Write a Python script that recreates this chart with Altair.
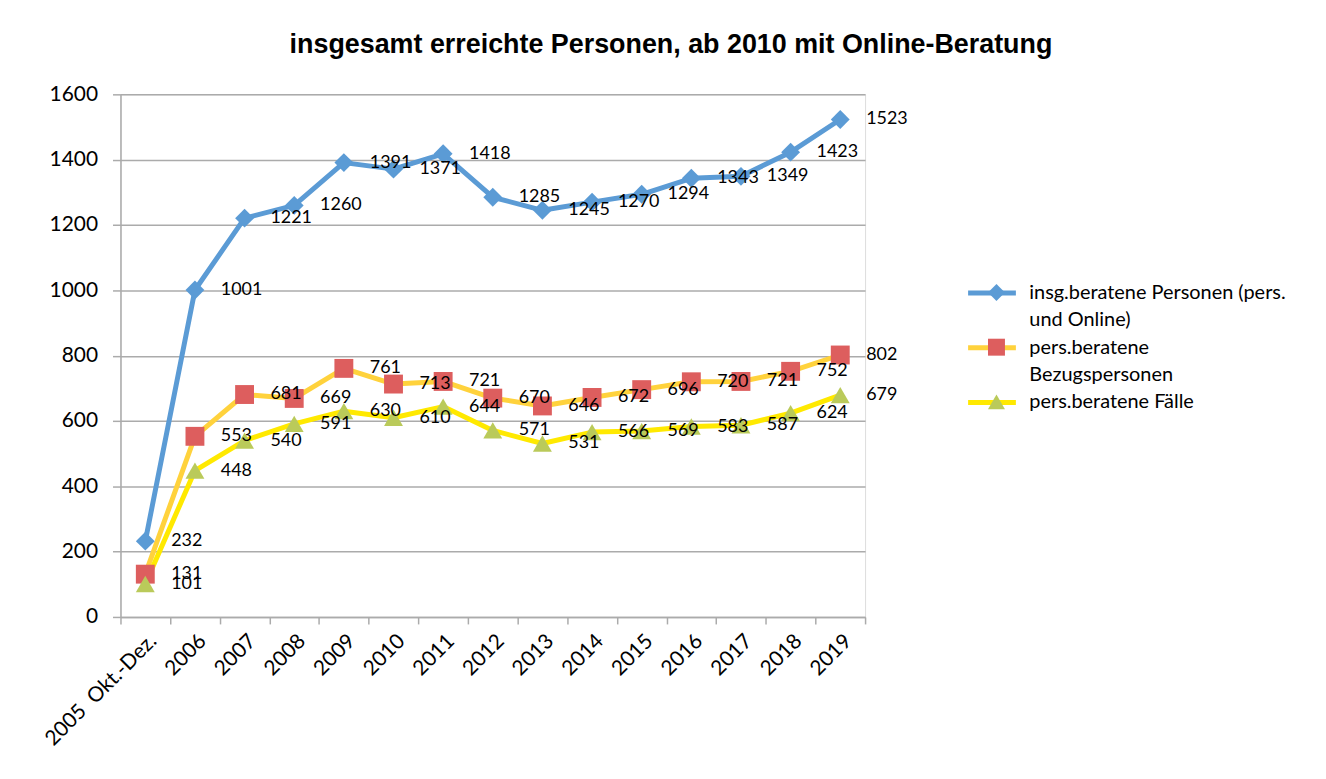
import altair as alt
import pandas as pd

categories = ["2005\u00a0 Okt.-Dez.", "2006", "2007", "2008", "2009", "2010", "2011",
              "2012", "2013", "2014", "2015", "2016", "2017", "2018", "2019"]
series_names = ["insg.beratene Personen (pers. und Online)",
                "pers.beratene Bezugspersonen",
                "pers.beratene Fälle"]
insg_beratene = [232, 1001, 1221, 1260, 1391, 1371, 1418, 1285, 1245, 1270, 1294, 1343, 1349, 1423, 1523]
bezugspersonen = [131, 553, 681, 669, 761, 713, 721, 670, 646, 672, 696, 720, 721, 752, 802]
faelle = [101, 448, 540, 591, 630, 610, 644, 571, 531, 566, 569, 583, 587, 624, 679]
y_ticks = [0, 200, 400, 600, 800, 1000, 1200, 1400, 1600]

# legend rows (wrapped names as in the original)
legend_domain = [series_names[0], "und Online)", series_names[1], "Bezugspersonen", series_names[2]]
legend_first_lines = {series_names[0]: "insg.beratene Personen (pers.",
                      series_names[1]: "pers.beratene"}

line_colors = ["#5B9BD5", "transparent", "#FFD23C", "transparent", "#FFE900"]
marker_colors = ["#5B9BD5", "#DD5E5E", "#BACA5A"]
marker_shapes = ["diamond", "square", "triangle-up"]

rows = []
for name, vals in zip(series_names, [insg_beratene, bezugspersonen, faelle]):
    for c, v in zip(categories, vals):
        rows.append({"Jahr": c, "Reihe": name, "Wert": v})
df = pd.DataFrame(rows)

GRID = "#ABABAB"
FONT = "Lato"

x = alt.X("Jahr:N", sort=categories,
          scale=alt.Scale(type="band", paddingInner=0, paddingOuter=0),
          axis=alt.Axis(title=None, labelAngle=-45, labelFont=FONT, labelFontSize=21,
                        labelColor="black", tickBand="extent", tickSize=7, tickColor=GRID,
                        tickWidth=1.5, domainColor=GRID, domainWidth=1.5, labelPadding=6,
                        grid=False, labelLimit=300))
y = alt.Y("Wert:Q", scale=alt.Scale(domain=[0, 1600], nice=False),
          axis=alt.Axis(title=None, values=y_ticks, format="d", labelFont=FONT, labelFontSize=21,
                        labelColor="black", tickSize=8, tickColor=GRID, tickWidth=1.5,
                        domainColor=GRID, domainWidth=1.5, gridColor=GRID, gridWidth=1.5,
                        labelPadding=15))

label_expr = ("datum.label == '%s' ? '%s' : datum.label == '%s' ? '%s' : datum.label"
              % (series_names[0], legend_first_lines[series_names[0]],
                 series_names[1], legend_first_lines[series_names[1]]))

lines = alt.Chart(df).mark_line(strokeWidth=5, strokeJoin="round", strokeCap="round").encode(
    x=x, y=y,
    stroke=alt.Stroke("Reihe:N",
                      scale=alt.Scale(domain=legend_domain, range=line_colors),
                      legend=alt.Legend(orient="none", legendX=865, legendY=189, title=None,
                                        symbolType="M-3,0H3", symbolStrokeWidth=5, symbolSize=256,
                                        labelExpr=label_expr, labelFont=FONT, labelFontSize=20,
                                        labelColor="black", labelOffset=27, rowPadding=6.5,
                                        padding=0, labelLimit=500)),
)

marker_legend = alt.Legend(orient="none", legendX=871, legendY=190, title=None,
                           symbolSize=290, symbolStrokeWidth=0, labelExpr="''",
                           rowPadding=37, padding=0, symbolOpacity=1)

points = alt.Chart(df).mark_point(filled=True, size=360, opacity=1, strokeWidth=0).encode(
    x=x, y=y,
    fill=alt.Fill("Reihe:N", scale=alt.Scale(domain=series_names, range=marker_colors),
                  legend=marker_legend),
    shape=alt.Shape("Reihe:N", scale=alt.Scale(domain=series_names, range=marker_shapes),
                    legend=marker_legend),
)

texts = alt.Chart(df).mark_text(align="left", baseline="middle", dx=26, font=FONT,
                                fontSize=18, color="black").encode(
    x=x, y=y, text=alt.Text("Wert:Q", format="d"))

chart = alt.layer(lines, points, texts).properties(
    width=748, height=525,
    autosize=alt.AutoSizeParams(type="none"),
    padding={"left": 113, "top": 85, "right": 455, "bottom": 150},
    title=alt.TitleParams("insgesamt erreichte Personen, ab 2010 mit Online-Beratung",
                          font="Liberation Sans", fontSize=27, fontWeight="bold",
                          color="black", anchor="middle", dx=179, offset=25, frame="group"),
).configure_view(stroke=None).configure(background="white")

chart.save("out.html", embed_options={"renderer": "svg", "actions": False})
